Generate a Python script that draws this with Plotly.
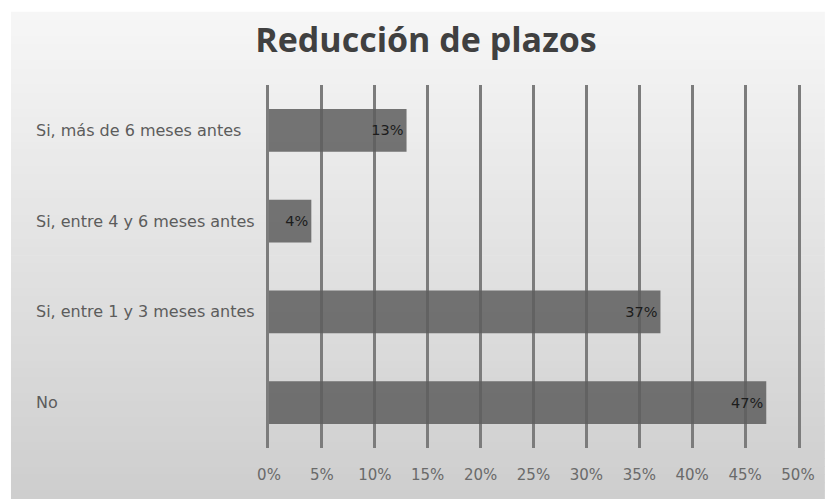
import plotly.graph_objects as go

# Survey answers, listed bottom to top as they appear on the axis
categories = [
    "No",
    "Si, entre 1 y 3 meses antes",
    "Si, entre 4 y 6 meses antes",
    "Si, más de 6 meses antes",
]
values = [47, 37, 4, 13]
value_labels = [f"{v}%" for v in values]
tick_values = list(range(0, 55, 5))
tick_labels = [f"{t}%" for t in tick_values]

W, H = 827, 499
M_L, M_R, M_T, M_B = 269, 27, 85, 51
GRID = "#7c7c7c"

fig = go.Figure()
fig.add_trace(go.Bar(
    x=values,
    y=categories,
    orientation="h",
    marker=dict(color="rgba(94,94,94,0.86)", line=dict(width=0)),
    text=value_labels,
    textposition="inside",
    insidetextanchor="end",
    textfont=dict(family="DejaVu Sans", size=14.5, color="#1c1c1c"),
    width=0.47,
    hoverinfo="skip",
))

# Soft vertical grey gradient behind the chart, inset from the page edge
shapes = []
n_bands = 60
x0_px, y0_px = 10, 12
for i in range(n_bands):
    f = i / (n_bands - 1)
    g = int(round(246 - (246 - 206) * f))
    top_px = y0_px + (H - y0_px) * i / n_bands
    bot_px = y0_px + (H - y0_px) * (i + 1) / n_bands
    shapes.append(dict(
        type="rect", layer="below",
        xref="paper", yref="paper",
        x0=(x0_px - M_L) / (W - M_L - M_R), x1=(W - M_L) / (W - M_L - M_R),
        y0=(H - M_B - bot_px) / (H - M_T - M_B) - 0.001,
        y1=(H - M_B - top_px) / (H - M_T - M_B) + 0.001,
        line=dict(width=0), fillcolor=f"rgb({g},{g},{g})",
    ))

# Category names, left-aligned in the left margin
annotations = []
for c in categories:
    annotations.append(dict(
        x=(33 - M_L) / (W - M_L - M_R), xref="paper", xanchor="left",
        y=c, yref="y", yanchor="middle",
        text=c, showarrow=False,
        font=dict(family="DejaVu Sans", size=16, color="#5c5c5c"),
    ))

fig.update_layout(
    width=W, height=H,
    margin=dict(l=M_L, r=M_R, t=M_T, b=M_B),
    paper_bgcolor="white",
    plot_bgcolor="rgba(0,0,0,0)",
    showlegend=False,
    title=dict(
        text="<b>Reducción de plazos</b>",
        x=426 / W, xanchor="center",
        y=1 - 40 / H, yanchor="middle",
        font=dict(family="Open Sans", size=34, color="#404040"),
    ),
    shapes=shapes,
    annotations=annotations,
    xaxis=dict(
        range=[0, 50],
        tickvals=tick_values,
        ticktext=tick_labels,
        showgrid=True, gridcolor=GRID, gridwidth=3,
        zeroline=False, showline=False,
        tickfont=dict(family="DejaVu Sans", size=15, color="#6a6a6a"),
        ticks="", ticklabelstandoff=16,
        fixedrange=True,
    ),
    yaxis=dict(
        categoryorder="array", categoryarray=categories,
        range=[-0.5, 3.5],
        showticklabels=False, showgrid=False, zeroline=False,
        # edge lines at 0% and 50% complete the vertical grid
        showline=True, mirror=True, linecolor=GRID, linewidth=3,
        fixedrange=True,
    ),
)

fig.write_html("out.html")
